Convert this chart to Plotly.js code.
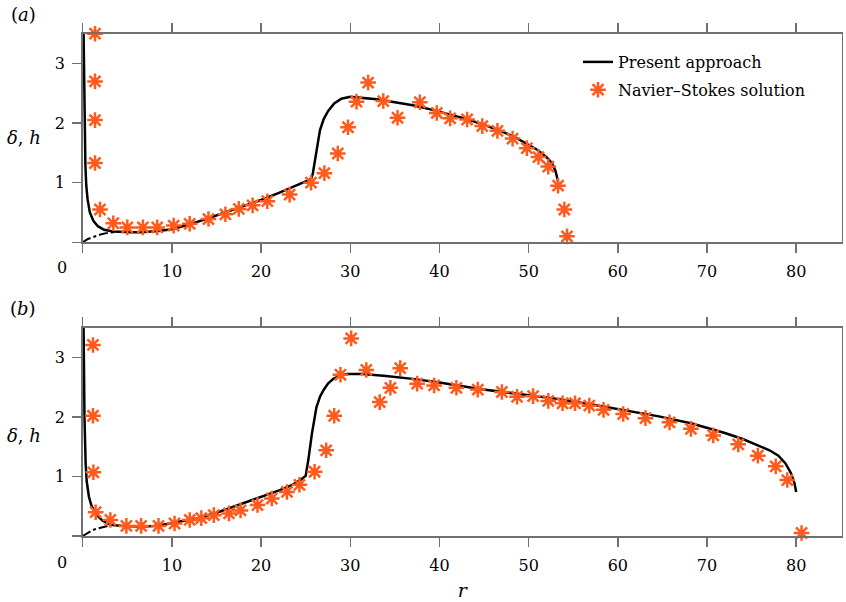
<!DOCTYPE html>
<html>
<head>
<meta charset="utf-8">
<script src="https://cdn.plot.ly/plotly-3.0.1.min.js"></script>
<style>html,body{margin:0;padding:0;background:#fff;}#chart{width:846px;height:602px;}</style>
</head>
<body>
<div id="chart"></div>
<script>
// ---------- data (panel a) ----------
const aLineX = [0.1,0.15,0.2,0.3,0.4,0.55,0.8,1.2,1.7,2.4,3.4,4.5,5.5,6.5,7.5,8.5,10,12,14,16,18,20,22,24,25.6,25.8,26.0,26.3,26.6,27.0,27.5,28.2,29.0,30.0,31,33,35,37,39,41,43,45,47,48.5,50,51,52,52.6,53.0,53.3];
const aLineY = [3.5,2.8,2.0,1.3,0.95,0.72,0.5,0.36,0.27,0.21,0.18,0.17,0.17,0.17,0.18,0.19,0.22,0.30,0.40,0.50,0.60,0.71,0.83,0.96,1.06,1.15,1.35,1.65,1.88,2.06,2.20,2.33,2.41,2.44,2.43,2.40,2.35,2.30,2.23,2.15,2.07,1.97,1.86,1.76,1.64,1.55,1.43,1.33,1.20,1.02];
const aDashX = [0,0.5,1,1.5,2,2.5,3,3.5];
const aDashY = [0.0,0.05,0.08,0.11,0.13,0.15,0.16,0.17];
const aNsX = [1.38,1.38,1.38,1.38,1.94,3.43,5.0,6.75,8.35,10.2,12.0,14.1,16.0,17.5,19.05,20.7,23.2,25.6,27.1,28.6,29.75,30.7,32.0,33.7,35.3,37.8,39.7,41.2,43.1,44.8,46.5,48.2,49.8,51.1,52.2,53.3,54.0,54.3];
const aNsY = [3.50,2.70,2.05,1.33,0.55,0.32,0.25,0.25,0.25,0.28,0.31,0.39,0.47,0.56,0.62,0.69,0.80,1.00,1.16,1.49,1.93,2.36,2.68,2.37,2.09,2.35,2.17,2.08,2.06,1.95,1.87,1.74,1.58,1.43,1.27,0.95,0.55,0.10];

// ---------- data (panel b) ----------
const bLineX = [0.1,0.15,0.2,0.33,0.45,0.7,1.0,1.6,2.2,3.1,4.5,6.5,8,9.5,11,13.2,15,16.9,18.8,20.6,22.1,23.5,24.4,25.0,25.3,25.7,26.2,26.6,27.0,27.5,28.1,28.8,29.6,31.4,34,37,40,44.5,48,53.4,57.1,60.9,64.6,68.3,70,72,74,76,77,78,78.8,79.4,79.8,80.0];
const bLineY = [3.5,2.7,2.0,1.22,0.92,0.66,0.5,0.35,0.26,0.19,0.17,0.16,0.17,0.2,0.24,0.31,0.39,0.49,0.59,0.69,0.77,0.86,0.94,1.01,1.28,1.72,2.16,2.34,2.45,2.56,2.64,2.69,2.72,2.72,2.69,2.64,2.58,2.47,2.40,2.30,2.21,2.11,2.01,1.89,1.82,1.73,1.63,1.51,1.44,1.35,1.22,1.06,0.89,0.74];
const bDashX = [0,0.5,1,1.5,2,2.5,3.1];
const bDashY = [0.0,0.05,0.09,0.12,0.14,0.16,0.18];
const bNsX = [1.15,1.15,1.2,1.45,3.1,4.9,6.55,8.5,10.3,12.0,13.3,14.7,16.4,17.7,19.6,21.2,22.9,24.3,26.0,27.3,28.2,28.9,30.1,31.8,33.3,34.5,35.6,37.5,39.4,41.9,44.3,47.0,48.7,50.5,52.2,53.8,55.2,56.8,58.4,60.6,63.1,65.8,68.2,70.7,73.5,75.7,77.7,79.0,80.6];
const bNsY = [3.21,2.02,1.07,0.40,0.27,0.17,0.17,0.17,0.21,0.27,0.30,0.35,0.38,0.43,0.52,0.63,0.74,0.86,1.08,1.44,2.02,2.71,3.32,2.79,2.25,2.49,2.82,2.56,2.53,2.49,2.46,2.42,2.34,2.35,2.27,2.23,2.23,2.19,2.12,2.05,1.98,1.91,1.80,1.69,1.54,1.35,1.17,0.94,0.05];

// ---------- ticks / labels ----------
const xTickVals = [0,10,20,30,40,50,60,70,80];
const xTickText = ['','10','20','30','40','50','60','70','80'];
const yTickVals = [0,1,2,3];
const yTickText = ['','1','2','3'];
const seriesNames = ['Present approach','Navier–Stokes solution'];

const FONT = '"DejaVu Serif", serif';
const AX = '#707070';
const NS_COLOR = '#ff5a1e';
const FS = 16;

function lineTrace(x,y,xa,ya,name,show){
  return {x:x,y:y,xaxis:xa,yaxis:ya,type:'scatter',mode:'lines',name:name,showlegend:show,legendgroup:'g1',
    line:{color:'#000',width:2.5},cliponaxis:false};
}
function dashTrace(x,y,xa,ya){
  return {x:x,y:y,xaxis:xa,yaxis:ya,type:'scatter',mode:'lines',showlegend:false,
    line:{color:'#000',width:2,dash:'dashdot'}};
}
function nsTrace(x,y,xa,ya,name,show){
  return {x:x,y:y,xaxis:xa,yaxis:ya,type:'scatter',mode:'markers',name:name,showlegend:show,legendgroup:'g2',cliponaxis:false,
    marker:{symbol:'asterisk-open',size:13,color:NS_COLOR,line:{color:NS_COLOR,width:2.5}}};
}

const traces = [
  lineTrace(aLineX,aLineY,'x','y',seriesNames[0],true),
  dashTrace(aDashX,aDashY,'x','y'),
  nsTrace(aNsX,aNsY,'x','y',seriesNames[1],true),
  lineTrace(bLineX,bLineY,'x2','y2',seriesNames[0],false),
  dashTrace(bDashX,bDashY,'x2','y2'),
  nsTrace(bNsX,bNsY,'x2','y2',seriesNames[1],false)
];

const W = 846, H = 602;
const xDom = [82.7/W, 841.7/W];
const yDomA = [1-242.3/H, 1-33.7/H];
const yDomB = [1-536/H, 1-327.7/H];

function xAxis(anchor){
  return {domain:xDom,range:[0,85.1],anchor:anchor,tickmode:'array',tickvals:xTickVals,ticktext:xTickText,
    ticks:'outside',ticklen:9,tickwidth:1.5,tickcolor:AX,showline:true,linecolor:AX,linewidth:1.5,
    mirror:'ticks',showgrid:false,zeroline:false,tickfont:{family:FONT,size:FS,color:'#000'},ticklabelstandoff:5};
}
function yAxis(anchor,dom){
  return {domain:dom,range:[0,3.5],anchor:anchor,tickmode:'array',tickvals:yTickVals,ticktext:yTickText,
    ticks:'outside',ticklen:9,tickwidth:1.5,tickcolor:AX,showline:true,linecolor:AX,linewidth:1.5,
    mirror:true,showgrid:false,zeroline:false,tickfont:{family:FONT,size:FS,color:'#000'},ticklabelstandoff:4};
}
function yRight(over,anchor){
  return {overlaying:over,side:'right',anchor:anchor,range:[0,3.5],tickmode:'array',tickvals:[1,2,3],
    ticks:'inside',ticklen:8,tickwidth:1.5,tickcolor:AX,showticklabels:false,showline:false,showgrid:false,zeroline:false};
}

const xb = xAxis('y2');
xb.title = {text:'<i>r</i>',font:{family:FONT,size:19,color:'#000'},standoff:10};

const layout = {
  width:W,height:H,margin:{l:0,r:0,t:0,b:0,autoexpand:false},paper_bgcolor:'#fff',plot_bgcolor:'#fff',
  font:{family:FONT,size:FS,color:'#000'},
  xaxis:xAxis('y'), yaxis:yAxis('x',yDomA),
  xaxis2:xb, yaxis2:yAxis('x2',yDomB),
  yaxis3:yRight('y','x'), yaxis4:yRight('y2','x2'),
  showlegend:true,
  legend:{x:578/W,y:1-45/H,xanchor:'left',yanchor:'top',bgcolor:'rgba(0,0,0,0)',traceorder:'grouped',
    font:{family:FONT,size:FS,color:'#000'},itemwidth:30,tracegroupgap:4},
  annotations:[
    {text:'(<i>a</i>)',xref:'paper',yref:'paper',x:23/W,y:1-15/H,showarrow:false,xanchor:'center',yanchor:'middle',font:{family:FONT,size:18}},
    {text:'(<i>b</i>)',xref:'paper',yref:'paper',x:23/W,y:1-308/H,showarrow:false,xanchor:'center',yanchor:'middle',font:{family:FONT,size:18}},
    {text:'<i>δ</i>, <i>h</i>',xref:'paper',yref:'paper',x:24/W,y:1-137/H,showarrow:false,xanchor:'center',yanchor:'middle',font:{family:FONT,size:18}},
    {text:'<i>δ</i>, <i>h</i>',xref:'paper',yref:'paper',x:24/W,y:1-435/H,showarrow:false,xanchor:'center',yanchor:'middle',font:{family:FONT,size:18}},
    {text:'0',xref:'paper',yref:'paper',x:61.7/W,y:1-267/H,showarrow:false,xanchor:'center',yanchor:'middle',font:{family:FONT,size:FS}},
    {text:'0',xref:'paper',yref:'paper',x:61.7/W,y:1-562/H,showarrow:false,xanchor:'center',yanchor:'middle',font:{family:FONT,size:FS}}
  ]
};

Plotly.newPlot('chart',traces,layout,{staticPlot:true,displayModeBar:false});
</script>
</body>
</html>
